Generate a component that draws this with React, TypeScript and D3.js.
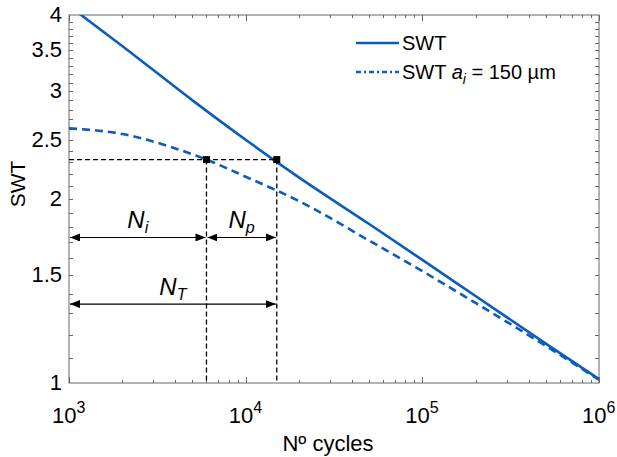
import { useEffect, useRef } from "react";
import * as d3 from "d3";

// SWT curve (no initial crack)
const swtCycles = [1000, 2000, 5000, 10000, 20000, 50000, 100000, 200000, 500000, 1000000];
const swtValues = [4.14, 3.56, 2.9, 2.5, 2.17, 1.82, 1.59, 1.388, 1.16, 1.015];

// SWT curve with a_i = 150 µm
const crackCycles = [1000, 2000, 4000, 6000, 10000, 20000, 50000, 100000, 200000, 500000, 1000000];
const crackValues = [2.61, 2.555, 2.42, 2.32, 2.175, 1.985, 1.71, 1.524, 1.352, 1.15, 1.012];

// annotation values
const initiationCycles = 6000;
const totalCycles = 15000;
const swtLevel = 2.32;
const arrowLevelA = 1.73;
const arrowLevelB = 1.346;

const yLabelTicks = [1, 1.5, 2, 2.5, 3, 3.5, 4];
const xDecades = [3, 4, 5, 6];

const App = () => {
  const svgRef = useRef<SVGSVGElement>(null);

  const width = 617;
  const height = 457;
  const left = 69;
  const right = 599;
  const top = 15;
  const bottom = 383;

  useEffect(() => {
    if (!svgRef.current) return;
    const svg = d3.select(svgRef.current);
    svg.selectAll("*").remove();

    const blue = "#0a5cbf";
    const axisColor = "#666";
    const font = "'Liberation Sans', Arial, sans-serif";

    const x = d3.scaleLog().domain([1e3, 1e6]).range([left, right]);
    const y = d3.scaleLog().domain([1, 4]).range([bottom, top]);

    // defs: clip + arrow markers
    const defs = svg.append("defs");
    defs.append("clipPath").attr("id", "plotclip")
      .append("rect")
      .attr("x", left).attr("y", top)
      .attr("width", right - left).attr("height", bottom - top);

    const marker = (id: string, orient: string) => {
      defs.append("marker")
        .attr("id", id)
        .attr("viewBox", "0 0 10 8")
        .attr("refX", 10).attr("refY", 4)
        .attr("markerWidth", 10).attr("markerHeight", 8)
        .attr("markerUnits", "userSpaceOnUse")
        .attr("orient", orient)
        .append("path")
        .attr("d", "M0,0 L10,4 L0,8 Z")
        .attr("fill", "#000");
    };
    marker("arrowEnd", "auto");
    marker("arrowStart", "auto-start-reverse");

    // axes box
    const axes = svg.append("g");
    axes.append("rect")
      .attr("x", left).attr("y", top)
      .attr("width", right - left).attr("height", bottom - top)
      .attr("fill", "none").attr("stroke", axisColor).attr("stroke-width", 1);

    // y ticks every 0.1
    const yMinor = d3.range(11, 40).map((v) => v / 10);
    yMinor.forEach((v) => {
      const yy = Math.round(y(v)) + 0.5;
      axes.append("line").attr("x1", left).attr("x2", left + 4)
        .attr("y1", yy).attr("y2", yy).attr("stroke", axisColor);
      axes.append("line").attr("x1", right - 4).attr("x2", right)
        .attr("y1", yy).attr("y2", yy).attr("stroke", axisColor);
    });

    yLabelTicks.forEach((v) => {
      axes.append("text")
        .attr("x", left - 7)
        .attr("y", y(v) + 7)
        .attr("text-anchor", "end")
        .attr("font-family", font)
        .attr("font-size", 22)
        .attr("fill", "#000")
        .text(String(v));
    });

    // x ticks
    xDecades.forEach((d, i) => {
      const base = Math.pow(10, d);
      const xx = Math.round(x(base)) + 0.5;
      axes.append("line").attr("x1", xx).attr("x2", xx)
        .attr("y1", bottom).attr("y2", bottom - 6).attr("stroke", axisColor);
      axes.append("line").attr("x1", xx).attr("x2", xx)
        .attr("y1", top).attr("y2", top + 6).attr("stroke", axisColor);
      if (i < xDecades.length - 1) {
        for (let m = 2; m <= 9; m++) {
          const mx = Math.round(x(m * base)) + 0.5;
          axes.append("line").attr("x1", mx).attr("x2", mx)
            .attr("y1", bottom).attr("y2", bottom - 3).attr("stroke", axisColor);
          axes.append("line").attr("x1", mx).attr("x2", mx)
            .attr("y1", top).attr("y2", top + 3).attr("stroke", axisColor);
        }
      }
      const t = axes.append("text")
        .attr("x", x(base) - 17)
        .attr("y", bottom + 40)
        .attr("font-family", font)
        .attr("font-size", 22)
        .attr("fill", "#000");
      t.append("tspan").text("10");
      t.append("tspan").attr("dy", -10).attr("font-size", 16).text(String(d));
    });

    // axis titles
    svg.append("text")
      .attr("x", 328)
      .attr("y", 451)
      .attr("text-anchor", "middle")
      .attr("font-family", font)
      .attr("font-size", 22)
      .attr("fill", "#000")
      .text("Nº cycles");

    svg.append("text")
      .attr("transform", `translate(25,184) rotate(-90)`)
      .attr("text-anchor", "middle")
      .attr("font-family", font)
      .attr("font-size", 21)
      .attr("fill", "#000")
      .text("SWT");

    // annotation lines (dashed black)
    const ann = svg.append("g");
    const yl = y(swtLevel);
    ann.append("line")
      .attr("x1", left).attr("x2", x(totalCycles))
      .attr("y1", yl).attr("y2", yl)
      .attr("stroke", "#000").attr("stroke-width", 1.3)
      .attr("stroke-dasharray", "5,3");
    [initiationCycles, totalCycles].forEach((n) => {
      ann.append("line")
        .attr("x1", x(n)).attr("x2", x(n))
        .attr("y1", yl).attr("y2", bottom)
        .attr("stroke", "#000").attr("stroke-width", 1.3)
        .attr("stroke-dasharray", "5,3");
    });

    // curves
    const line = d3.line<[number, number]>()
      .x((d) => x(d[0]))
      .y((d) => y(d[1]))
      .curve(d3.curveMonotoneX);

    const curves = svg.append("g").attr("clip-path", "url(#plotclip)");
    curves.append("path")
      .attr("d", line(crackCycles.map((n, i) => [n, crackValues[i]] as [number, number])))
      .attr("fill", "none").attr("stroke", blue).attr("stroke-width", 2.6)
      .attr("stroke-dasharray", "8,5");
    curves.append("path")
      .attr("d", line(swtCycles.map((n, i) => [n, swtValues[i]] as [number, number])))
      .attr("fill", "none").attr("stroke", blue).attr("stroke-width", 2.6);

    // squares
    [initiationCycles, totalCycles].forEach((n) => {
      ann.append("rect")
        .attr("x", x(n) - 3.5).attr("y", yl - 3.5)
        .attr("width", 7).attr("height", 7)
        .attr("fill", "#000");
    });
    ann.raise();

    // double arrows
    const arrow = (n1: number, n2: number, level: number) => {
      svg.append("line")
        .attr("x1", x(n1) + 1).attr("x2", x(n2) - 1)
        .attr("y1", y(level)).attr("y2", y(level))
        .attr("stroke", "#000").attr("stroke-width", 1.2)
        .attr("marker-start", "url(#arrowStart)")
        .attr("marker-end", "url(#arrowEnd)");
    };
    arrow(1000, initiationCycles, arrowLevelA);
    arrow(initiationCycles, totalCycles, arrowLevelA);
    arrow(1000, totalCycles, arrowLevelB);

    const nLabel = (cx: number, yy: number, sub: string) => {
      const t = svg.append("text")
        .attr("x", cx)
        .attr("y", yy)
        .attr("text-anchor", "middle")
        .attr("font-family", font)
        .attr("font-size", 24)
        .attr("font-style", "italic")
        .attr("fill", "#000");
      t.append("tspan").text("N");
      t.append("tspan").attr("dy", 5).attr("font-size", 16).text(sub);
    };
    nLabel((left + x(initiationCycles)) / 2, y(arrowLevelA) - 9, "i");
    nLabel((x(initiationCycles) + x(totalCycles)) / 2, y(arrowLevelA) - 9, "p");
    nLabel((left + x(totalCycles)) / 2, y(arrowLevelB) - 9, "T");

    // legend
    const lg = svg.append("g");
    lg.append("line")
      .attr("x1", 356).attr("x2", 399).attr("y1", 43).attr("y2", 43)
      .attr("stroke", blue).attr("stroke-width", 2.6);
    lg.append("text")
      .attr("x", 402).attr("y", 50)
      .attr("font-family", font).attr("font-size", 20).attr("fill", "#000")
      .text("SWT");
    lg.append("line")
      .attr("x1", 356).attr("x2", 399).attr("y1", 72).attr("y2", 72)
      .attr("stroke", blue).attr("stroke-width", 2.6)
      .attr("stroke-dasharray", "5,3,2,3");
    const t2 = lg.append("text")
      .attr("x", 402).attr("y", 79)
      .attr("font-family", font).attr("font-size", 20).attr("fill", "#000");
    t2.append("tspan").text("SWT ");
    t2.append("tspan").attr("font-style", "italic").text("a");
    t2.append("tspan").attr("font-style", "italic").attr("font-size", 14).attr("dy", 5).text("i");
    t2.append("tspan").attr("dy", -5).text(" = 150 µm");
  }, []);

  return (
    <div style={{ position: "absolute", left: 0, top: 0, width, height, background: "#fff" }}>
      <svg ref={svgRef} width={width} height={height} viewBox={`0 0 ${width} ${height}`} />
    </div>
  );
};

export default App;
